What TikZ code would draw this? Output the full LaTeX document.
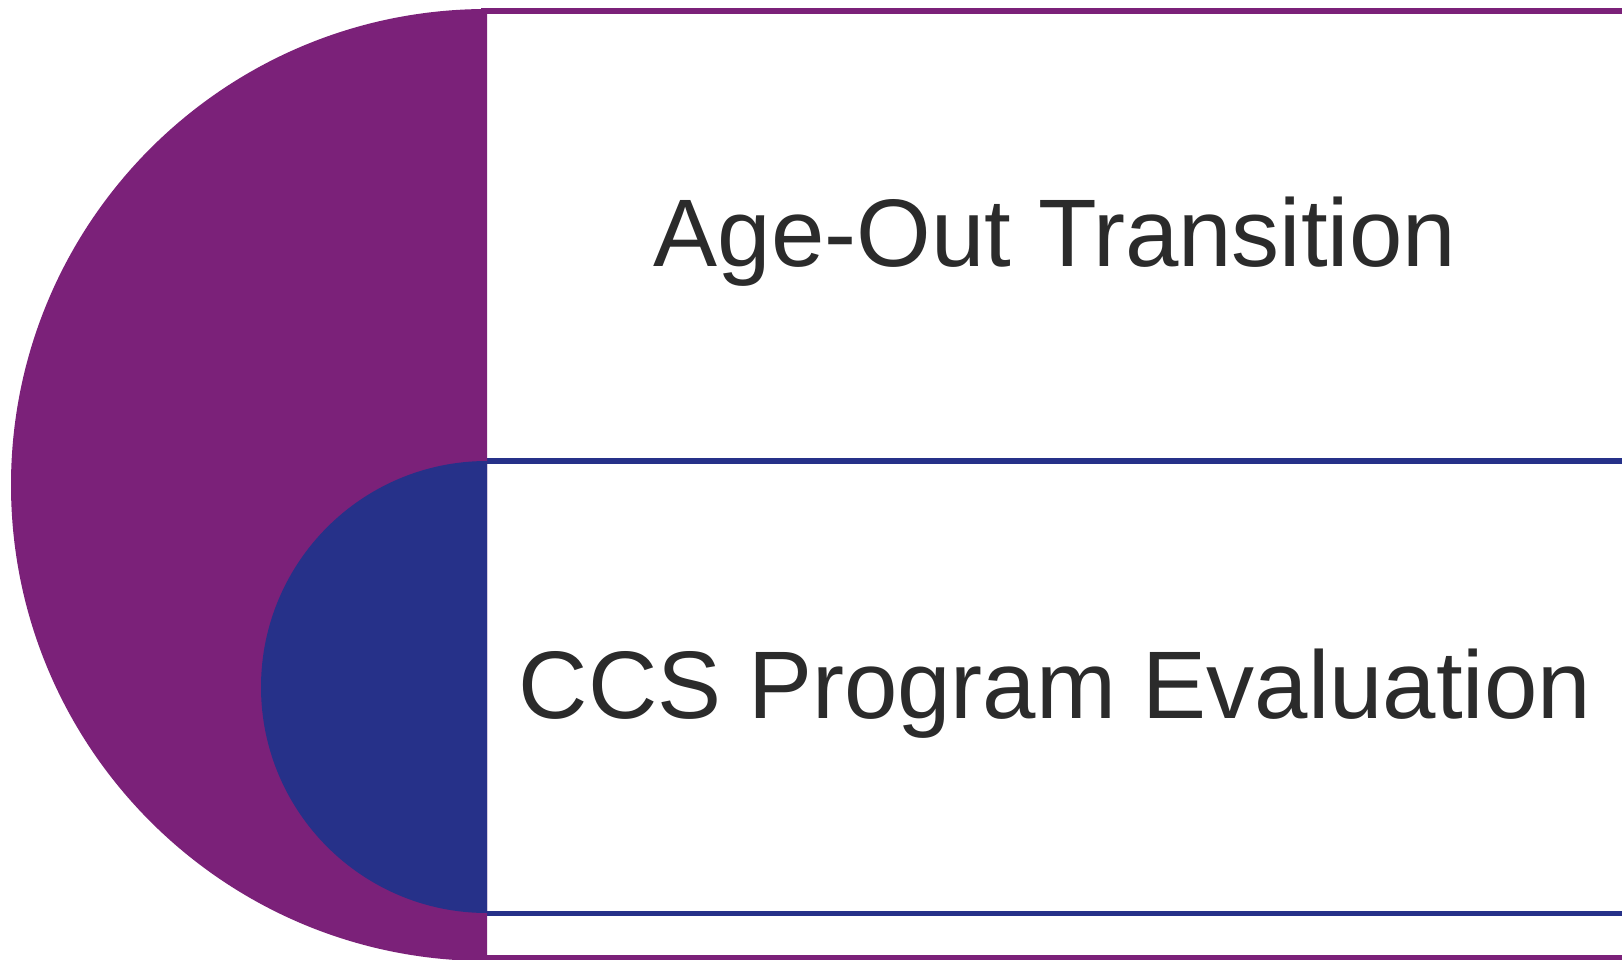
\documentclass[tikz,border=0pt]{standalone}
\usepackage{fontspec}
\setmainfont{Liberation Sans}
\usetikzlibrary{positioning}
\definecolor{plum}{HTML}{7B2179}
\definecolor{navy}{HTML}{263189}
\definecolor{ink}{HTML}{2B2B2B}
\tikzset{x=1pt, y=-1pt}
\tikzstyle{label} = [text=ink, font=\fontsize{96}{110}\selectfont, inner sep=0pt, anchor=base]
\tikzstyle{outerbox} = [draw=plum, line width=5.5pt, fill=white]
\tikzstyle{innerbox} = [draw=navy, line width=5.5pt, fill=white]

\begin{document}
\begin{tikzpicture}
    \useasboundingbox (0,0) rectangle (1622,960);
    \fill [white] (0,0) rectangle (1622,960);
    % boxes
    \draw [outerbox] (484,11) rectangle (1630,958);
    \draw [innerbox] (484,461) rectangle (1630,913.5);
    % half discs
    \fill [plum] (487,9) arc [start angle=270, end angle=90, radius=476] -- cycle;
    \fill [navy] (487,461) arc [start angle=270, end angle=90, radius=226] -- cycle;
    % texts
    \node [label] (ageout) at (1055,266) {Age-Out Transition};
    \node [label] (ccs) at (1055,718) {CCS Program Evaluation};
\end{tikzpicture}
\end{document}
